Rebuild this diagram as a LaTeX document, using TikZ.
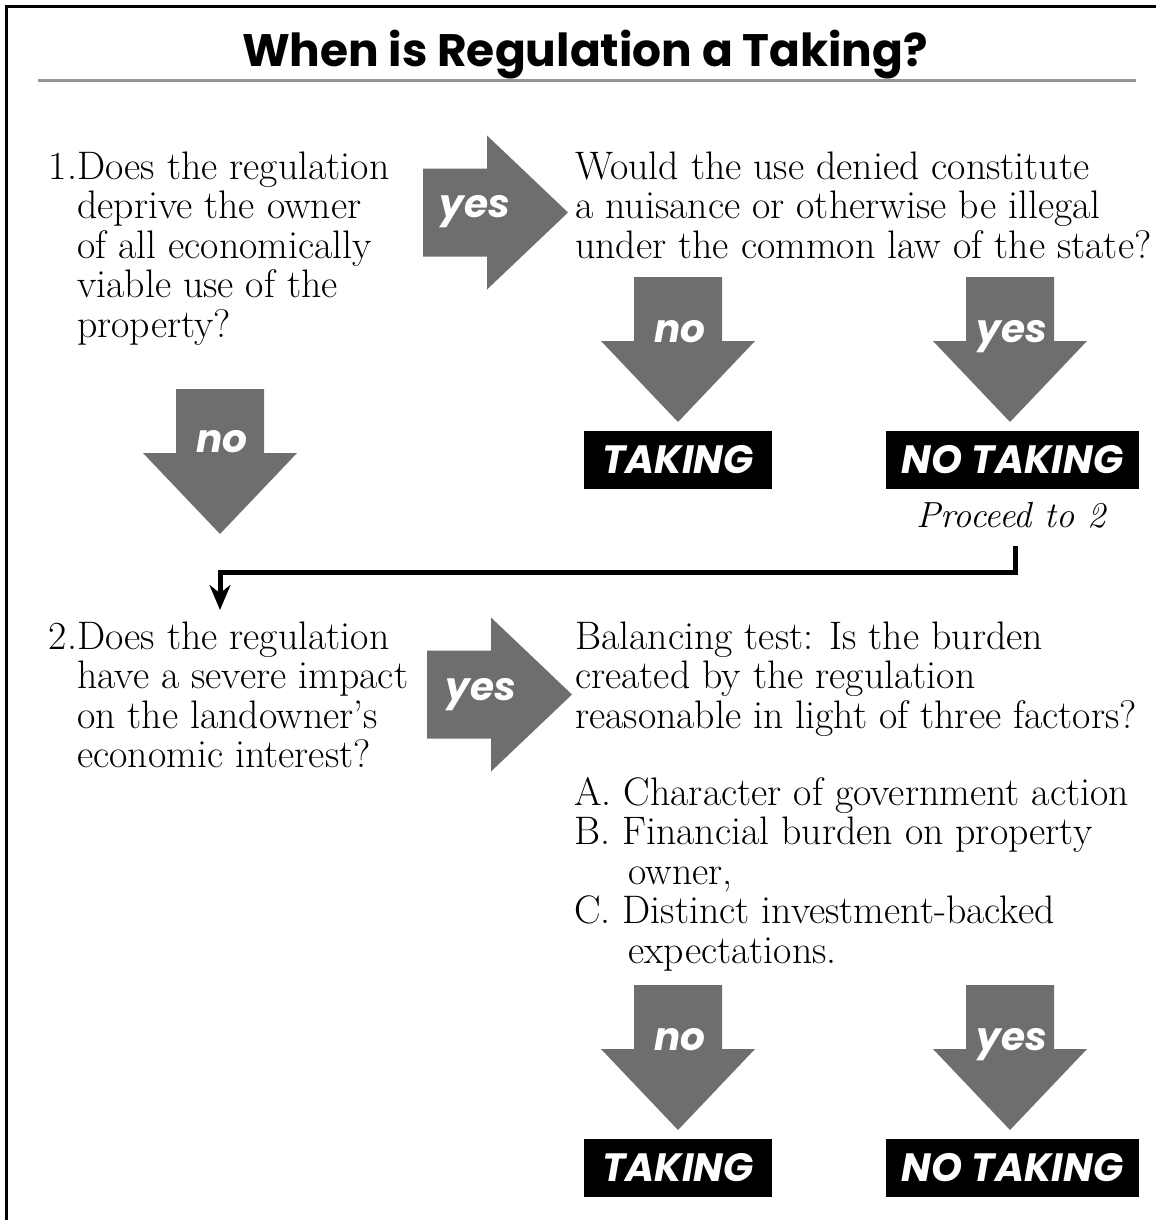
\documentclass[tikz,border=0pt]{standalone}
\usepackage{fontspec}
\newfontfamily\headfont{Poppins}
\usetikzlibrary{arrows.meta}
\definecolor{arrowgray}{RGB}{110,110,110}
\definecolor{rulegray}{RGB}{150,150,150}
\tikzset{
  question/.style={anchor=base west, align=left, inner sep=0pt, font=\fontsize{39.8}{39.5}\selectfont},
  answer/.style={anchor=base, inner sep=0pt, text=white, font=\headfont\bfseries\itshape\fontsize{39}{39}\selectfont},
  verdict/.style={fill=black, text=white, inner sep=0pt, minimum height=58pt, font=\headfont\bfseries\itshape\fontsize{39.5}{39.5}\selectfont},
}
\begin{document}
\begin{tikzpicture}[x=1pt, y=-1pt, >=Stealth]
\useasboundingbox (0,0) rectangle (1156,1220);
% frame and title
\draw[line width=3pt] (1156,7) -| (6,1220);
\node[anchor=base, inner sep=0pt, font=\headfont\bfseries\fontsize{45.5}{45.5}\selectfont] (title) at (585,67) {When is Regulation a Taking?};
\draw[rulegray, line width=3pt] (38,81) -- (1136,81);

% big gray arrows: x/y/rotation
\foreach \x/\y/\r in {423/212.5/0, 427/694.5/0, 220/389/-90, 678/277/-90, 1010/277/-90, 678/985/-90, 1010/985/-90}
  \fill[arrowgray, shift={(\x,\y)}, rotate=\r] (0,-44) -- (64,-44) -- (64,-77) -- (145,0) -- (64,77) -- (64,44) -- (0,44) -- cycle;
\foreach \n/\x/\y/\t in {a/475/217/yes, b/481/700/yes, c/222/452/no, d/680/342/no, e/1012/342/yes, f/680/1050/no, g/1012/1050/yes}
  \node[answer] (ans-\n) at (\x,\y) {\t};

% verdicts
\foreach \n/\x/\y/\w/\t in {t1/678/460/188pt/TAKING, n1/1012.5/460/253pt/NO TAKING, t2/678/1168/188pt/TAKING, n2/1012.5/1168/253pt/NO TAKING}
  \node[verdict, minimum width=\w] (\n) at (\x,\y) {\t};

% questions (placed at the baseline of their last line)
\node[question] (q1) at (77,337) {\llap{1.}Does the regulation\\deprive the owner\\of all economically\\viable use of the\\property?};
\node[question] (nuisance) at (575,258) {Would the use denied constitute\\a nuisance or otherwise be illegal\\under the common law of the state?};
\node[question] (q2) at (77,767.5) {\llap{2.}Does the regulation\\have a severe impact\\on the landowner's\\economic interest?};
\node[question] (balance) at (575,728) {Balancing test: Is the burden\\created by the regulation\\reasonable in light of three factors?};
\node[question] (factors) at (574,963) {A. Character of government action\\B. Financial burden on property\\\hspace*{54pt}owner,\\C. Distinct investment-backed\\\hspace*{54pt}expectations.};
\node[anchor=base, inner sep=0pt, font=\itshape\fontsize{36.3}{36.3}\selectfont] (proceed) at (1011,527) {Proceed to 2};

% proceed to 2
\coordinate (in2) at (220,610);
\draw[line width=5pt, -{Stealth[length=25pt, width=21pt]}] ([xshift=4pt, yshift=-18pt]proceed.south) -- ++(0,27) -| (in2);
\end{tikzpicture}
\end{document}
